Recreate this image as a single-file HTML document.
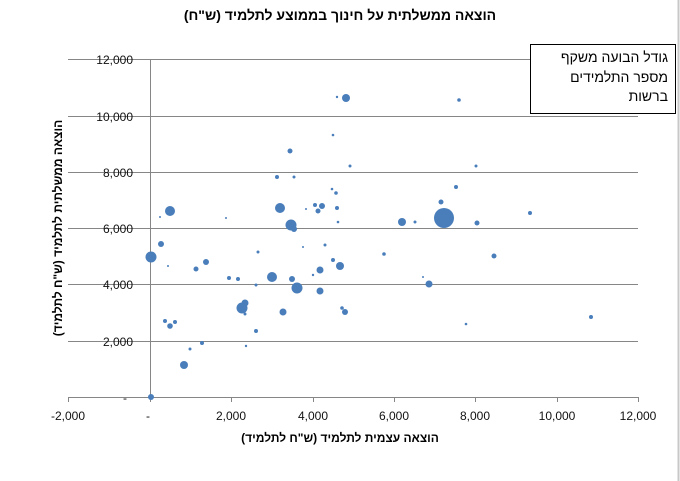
<!DOCTYPE html>
<html><head><meta charset="utf-8"><style>
html,body{margin:0;padding:0;background:#fff;}
svg{display:block;font-family:"Liberation Sans","DejaVu Sans",sans-serif;}
</style></head><body>
<svg width="680" height="481" viewBox="0 0 680 481" xmlns="http://www.w3.org/2000/svg">
<rect width="680" height="481" fill="#fff"/>
<line x1="678.5" y1="0" x2="678.5" y2="481" stroke="#c8c8c8" stroke-width="2"/>
<text x="340" y="20" text-anchor="middle" font-size="14" font-weight="bold" direction="rtl">הוצאה ממשלתית על חינוך בממוצע לתלמיד (ש"ח)</text>
<g stroke="#868686" stroke-width="1">
<line x1="68" y1="59.5" x2="638" y2="59.5"/>
<line x1="68" y1="116.5" x2="638" y2="116.5"/>
<line x1="68" y1="172.5" x2="638" y2="172.5"/>
<line x1="68" y1="228.5" x2="638" y2="228.5"/>
<line x1="68" y1="284.5" x2="638" y2="284.5"/>
<line x1="68" y1="341.5" x2="638" y2="341.5"/>
<line x1="68" y1="397.5" x2="638" y2="397.5"/>
<line x1="150.5" y1="59" x2="150.5" y2="397"/>
<line x1="68.5" y1="397" x2="68.5" y2="402"/>
<line x1="150.5" y1="397" x2="150.5" y2="402"/>
<line x1="231.5" y1="397" x2="231.5" y2="402"/>
<line x1="313.5" y1="397" x2="313.5" y2="402"/>
<line x1="394.5" y1="397" x2="394.5" y2="402"/>
<line x1="475.5" y1="397" x2="475.5" y2="402"/>
<line x1="557.5" y1="397" x2="557.5" y2="402"/>
<line x1="638.5" y1="397" x2="638.5" y2="402"/>
</g>
<g font-size="12" fill="#111" text-anchor="end">
<text x="133" y="64">12,000</text>
<text x="133" y="121">10,000</text>
<text x="133" y="177">8,000</text>
<text x="133" y="233">6,000</text>
<text x="133" y="289">4,000</text>
<text x="133" y="346">2,000</text>
<text x="127" y="402">-</text>
</g>
<g font-size="12" fill="#111" text-anchor="middle">
<text x="68" y="420">-2,000</text>
<text x="148" y="420">-</text>
<text x="231" y="420">2,000</text>
<text x="313" y="420">4,000</text>
<text x="394" y="420">6,000</text>
<text x="475" y="420">8,000</text>
<text x="557" y="420">10,000</text>
<text x="638" y="420">12,000</text>
</g>
<text x="340" y="442" text-anchor="middle" font-size="12" font-weight="bold" direction="rtl">הוצאה עצמית לתלמיד (ש"ח לתלמיד)</text>
<text transform="translate(62,228) rotate(-90)" text-anchor="middle" font-size="12" font-weight="bold" direction="rtl">הוצאה ממשלתית לתלמיד (ש"ח לתלמיד)</text>
<rect x="530.5" y="44.5" width="145" height="69" fill="#fff" stroke="#000" stroke-width="1"/>
<g font-size="14" text-anchor="end">
<text x="668" y="62">גודל הבועה משקף</text>
<text x="668" y="82">מספר התלמידים</text>
<text x="668" y="101">ברשות</text>
</g>
<g fill="#4a7ebb">
<circle cx="337" cy="97" r="1.2"/><circle cx="346" cy="98" r="4"/><circle cx="459" cy="100" r="1.8"/>
<circle cx="333" cy="135" r="1.3"/><circle cx="290" cy="151" r="2.5"/>
<circle cx="277" cy="177" r="2"/><circle cx="294" cy="177" r="1.5"/><circle cx="350" cy="166" r="1.5"/><circle cx="476" cy="166" r="1.5"/>
<circle cx="456" cy="187" r="2"/><circle cx="441" cy="202" r="2.5"/><circle cx="332" cy="189" r="1.3"/><circle cx="336" cy="193" r="1.8"/>
<circle cx="280" cy="208" r="5"/><circle cx="306" cy="209" r="1"/><circle cx="315" cy="205" r="2"/><circle cx="318" cy="211" r="2.5"/><circle cx="322" cy="206" r="3"/><circle cx="337" cy="208" r="2"/>
<circle cx="530" cy="213" r="2"/><circle cx="291" cy="225" r="5.5"/><circle cx="294" cy="229" r="3"/><circle cx="338" cy="222" r="1.3"/>
<circle cx="170" cy="211" r="5"/><circle cx="160" cy="217" r="1"/><circle cx="226" cy="218" r="1"/>
<circle cx="402" cy="222" r="4"/><circle cx="415" cy="222" r="1.5"/><circle cx="444" cy="218" r="10"/><circle cx="477" cy="223" r="2.5"/>
<circle cx="161" cy="244" r="3"/><circle cx="151" cy="257" r="5.5"/><circle cx="258" cy="252" r="1.5"/><circle cx="303" cy="247" r="1"/><circle cx="325" cy="245" r="1.5"/><circle cx="333" cy="260" r="2"/>
<circle cx="384" cy="254" r="1.8"/><circle cx="494" cy="256" r="2.5"/><circle cx="340" cy="266" r="4"/>
<circle cx="168" cy="266" r="1"/><circle cx="206" cy="262" r="3"/><circle cx="196" cy="269" r="2.5"/>
<circle cx="229" cy="278" r="2"/><circle cx="238" cy="279" r="2"/><circle cx="272" cy="277" r="5"/><circle cx="292" cy="279" r="3"/><circle cx="297" cy="288" r="5.5"/><circle cx="256" cy="285" r="1.5"/><circle cx="313" cy="275" r="1.2"/><circle cx="320" cy="270" r="3.5"/><circle cx="320" cy="291" r="3.5"/>
<circle cx="423" cy="277" r="1"/><circle cx="429" cy="284" r="3.5"/>
<circle cx="242" cy="308" r="5.5"/><circle cx="245" cy="303" r="3.5"/><circle cx="245" cy="314" r="1.5"/><circle cx="283" cy="312" r="3.5"/><circle cx="342" cy="308" r="1.8"/><circle cx="345" cy="312" r="3"/>
<circle cx="591" cy="317" r="2"/><circle cx="466" cy="324" r="1.3"/>
<circle cx="165" cy="321" r="2"/><circle cx="170" cy="326" r="2.8"/><circle cx="175" cy="322" r="2"/>
<circle cx="256" cy="331" r="2"/><circle cx="190" cy="349" r="1.5"/><circle cx="202" cy="343" r="2"/><circle cx="246" cy="346" r="1.2"/>
<circle cx="184" cy="365" r="4"/><circle cx="151" cy="397" r="3"/>
</g>
</svg>
</body></html>
